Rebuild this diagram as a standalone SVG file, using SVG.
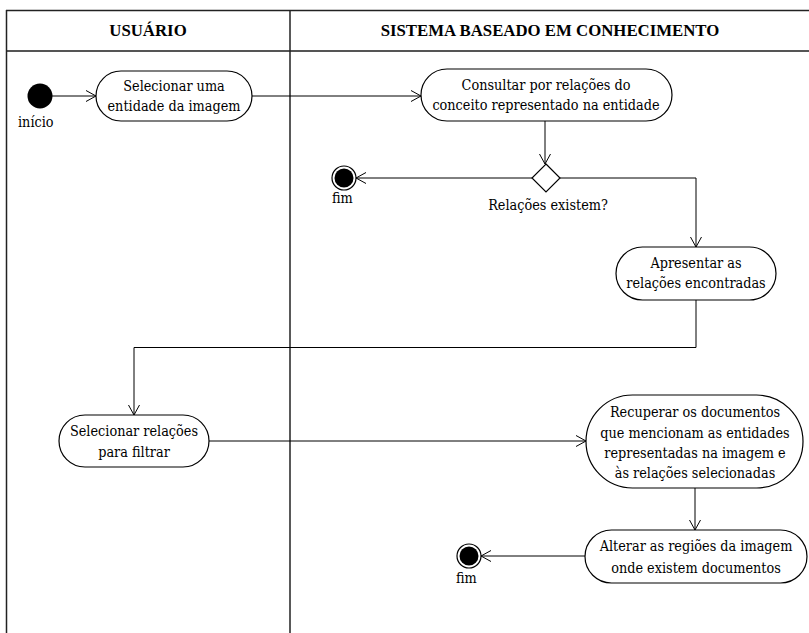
<svg xmlns="http://www.w3.org/2000/svg" width="809" height="633" viewBox="0 0 809 633">
  <style>
    .frame { stroke: #222; stroke-width: 1.5; fill: none; }
    .hdr { font-family: 'Liberation Serif', 'Times New Roman', serif; font-size: 16.8px; font-weight: bold; text-anchor: middle; fill: #000; }
    .act { fill: #fff; stroke: #000; stroke-width: 1.2; }
    .lbl { font-family: 'DejaVu Serif Condensed', 'DejaVu Serif', 'Liberation Serif', serif; font-stretch: condensed; font-size: 14.3px; text-anchor: middle; fill: #000; }
    .cap { font-family: 'DejaVu Serif Condensed', 'DejaVu Serif', 'Liberation Serif', serif; font-stretch: condensed; font-size: 14.3px; fill: #000; }
    .edge { stroke: #000; stroke-width: 1; fill: none; marker-end: url(#open); }
  </style>
  <defs>
    <marker id="open" viewBox="0 0 12 12" refX="11" refY="6" markerWidth="12" markerHeight="12" markerUnits="userSpaceOnUse" orient="auto">
      <path d="M1,0.5 L11,6 L1,11.5" fill="none" stroke="#000" stroke-width="1"/>
    </marker>
  </defs>
  <rect width="809" height="633" fill="#fff"/>

  <!-- swimlanes -->
  <g id="lanes">
    <line class="frame" x1="6" y1="10.5" x2="809" y2="10.5"/>
    <line x1="6" y1="51" x2="809" y2="51" stroke="#555" stroke-width="2"/>
    <line class="frame" x1="6.5" y1="10" x2="6.5" y2="633"/>
    <line class="frame" x1="290" y1="10" x2="290" y2="633"/>
    <text class="hdr" x="148" y="36">USUÁRIO</text>
    <text class="hdr" x="550" y="36">SISTEMA BASEADO EM CONHECIMENTO</text>
  </g>

  <!-- connectors -->
  <g id="connectors">
    <path class="edge" d="M52,96 L96,96"/>
    <path class="edge" d="M252,96 L421,96"/>
    <path class="edge" d="M545,121 L545,164"/>
    <path class="edge" d="M532,178 L356,178"/>
    <path class="edge" d="M560,178 L696,178 L696,247"/>
    <path class="edge" d="M696,300 L696,347.5 L134,347.5 L134,415"/>
    <path class="edge" d="M209,441 L586,441"/>
    <path class="edge" d="M695,488 L695,530"/>
    <path class="edge" d="M585,556 L481,556"/>
  </g>

  <g id="inicio">
    <circle cx="40" cy="96" r="12.5" fill="#000"/>
    <text class="cap" x="18" y="127">início</text>
  </g>

  <g id="selecionar-entidade">
    <rect class="act" x="96" y="71" width="156" height="50" rx="25"/>
    <text class="lbl" x="174" y="91">Selecionar uma</text>
    <text class="lbl" x="174" y="111">entidade da imagem</text>
  </g>

  <g id="consultar-relacoes">
    <rect class="act" x="421" y="69" width="251" height="52" rx="26"/>
    <text class="lbl" x="546" y="90">Consultar por relações do</text>
    <text class="lbl" x="546" y="110">conceito representado na entidade</text>
  </g>

  <g id="decisao">
    <path class="act" d="M546,164 L560,178 L546,192 L532,178 Z"/>
    <text class="lbl" x="548" y="210">Relações existem?</text>
  </g>

  <g id="fim-1">
    <circle cx="344" cy="178" r="12" fill="#fff" stroke="#000" stroke-width="1.2"/>
    <circle cx="344" cy="178" r="9.5" fill="#000"/>
    <text class="cap" x="332" y="203">fim</text>
  </g>

  <g id="apresentar-relacoes">
    <rect class="act" x="616" y="247" width="160" height="53" rx="26.5"/>
    <text class="lbl" x="696" y="268">Apresentar as</text>
    <text class="lbl" x="696" y="288">relações encontradas</text>
  </g>

  <g id="selecionar-relacoes">
    <rect class="act" x="59" y="415" width="150" height="52" rx="26"/>
    <text class="lbl" x="134" y="436">Selecionar relações</text>
    <text class="lbl" x="134" y="457">para filtrar</text>
  </g>

  <g id="recuperar-documentos">
    <rect class="act" x="586" y="395" width="217" height="93" rx="46.5"/>
    <text class="lbl" x="695" y="417">Recuperar os documentos</text>
    <text class="lbl" x="695" y="438">que mencionam as entidades</text>
    <text class="lbl" x="695" y="458">representadas na imagem e</text>
    <text class="lbl" x="695" y="478">às relações selecionadas</text>
  </g>

  <g id="alterar-regioes">
    <rect class="act" x="585" y="530" width="222" height="53" rx="26.5"/>
    <text class="lbl" x="696" y="551">Alterar as regiões da imagem</text>
    <text class="lbl" x="696" y="573">onde existem documentos</text>
  </g>

  <g id="fim-2">
    <circle cx="469" cy="556" r="12" fill="#fff" stroke="#000" stroke-width="1.2"/>
    <circle cx="469" cy="556" r="9.5" fill="#000"/>
    <text class="cap" x="456" y="583">fim</text>
  </g>
</svg>
